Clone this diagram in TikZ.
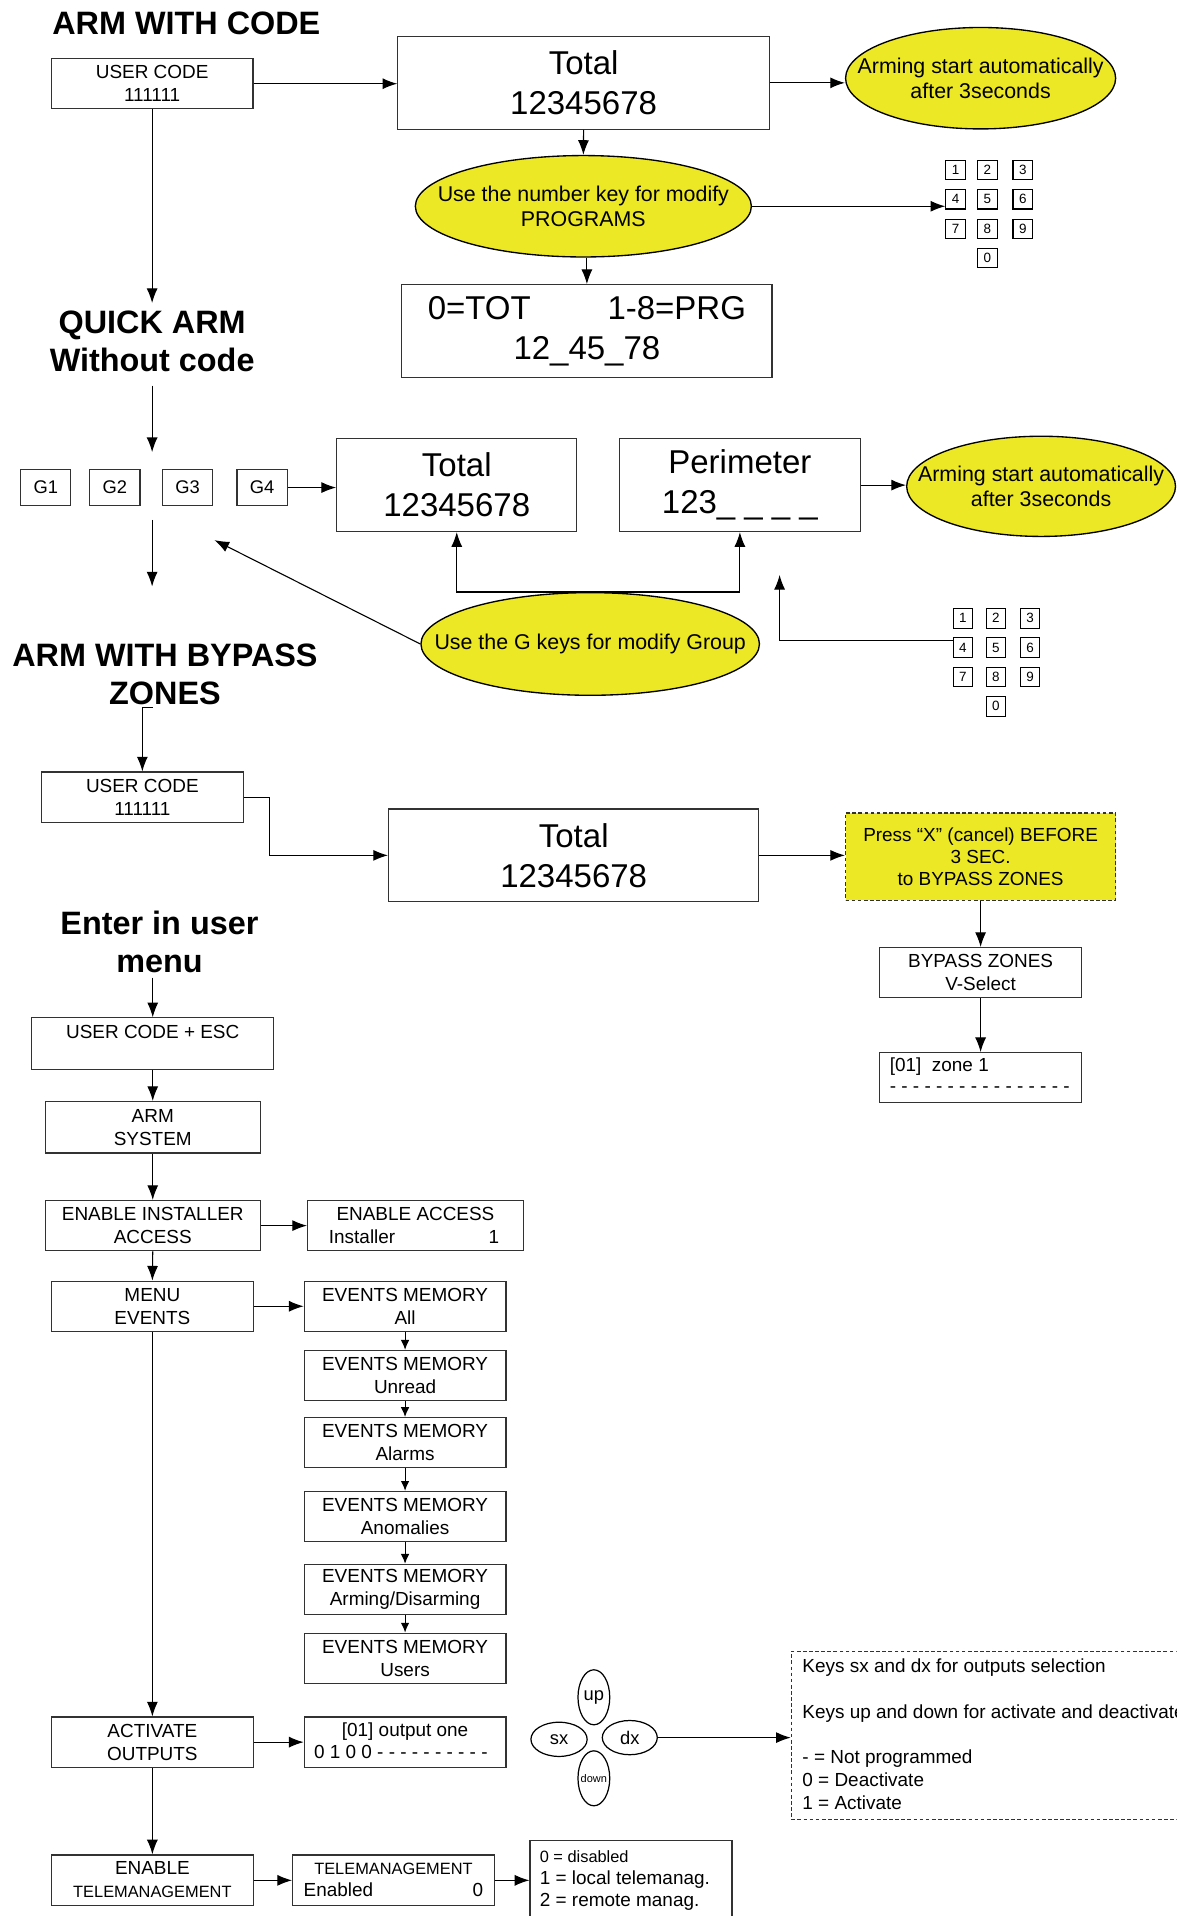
\documentclass[tikz,border=0pt]{standalone}
\usepackage{fontspec}
\setmainfont{Liberation Sans}
\usetikzlibrary{arrows.meta,shapes.geometric}
\definecolor{yel}{RGB}{237,232,37}
\definecolor{boxc}{RGB}{50,50,50}
\newcommand{\myfs}[2]{\fontsize{#1}{#2}\selectfont}
\tikzset{
  box/.style={draw=boxc, line width=1pt, inner sep=0pt, align=center, font=\myfs{15.5}{18.6}, minimum width=165pt, minimum height=41pt},
  bigbox/.style={box, font=\myfs{27}{32.7}, minimum height=76pt},
  yellip/.style={ellipse, draw=black, line width=1.1pt, fill=yel, inner sep=0pt},
  etxt/.style={align=center, inner sep=0pt, font=\myfs{17.5}{20.4}},
  keyb/.style={draw=black, line width=0.9pt, minimum width=16pt, minimum height=16pt, inner sep=0pt, font=\myfs{11}{12}},
  gbox/.style={box, minimum width=41pt, minimum height=30pt, font=\myfs{15}{18}},
  ttl/.style={align=center, inner sep=0pt, font=\bfseries\myfs{26.5}{31.5}},
  txt/.style={inner sep=0pt, font=\myfs{15.5}{18.6}},
  stxt/.style={inner sep=0pt, font=\myfs{13.4}{16}},
  arr/.style={-{Latex[length=12pt,width=9pt]}, line width=0.9pt},
  sarr/.style={-{Latex[length=8pt,width=7pt]}, line width=0.9pt},
  padel/.style={ellipse, draw=black, line width=1pt, inner sep=0pt},
}
\begin{document}
\begin{tikzpicture}[x=1pt,y=-1pt]
\useasboundingbox (0,0) rectangle (963,1568);
\clip (0,0) rectangle (963,1568);

% ---------------- ARM WITH CODE ----------------
\node[ttl] (tArm) at (152.5,19) {ARM WITH CODE};
\node[box] (uc1) at (124.5,68.5) {USER CODE\\111111};
\node[bigbox, minimum width=304pt] (tot1) at (477.6,67.8) {Total\\12345678};
\node[yellip, minimum width=221pt, minimum height=83pt] (ellA1) at (802.5,64) {};
\node[etxt] (ellA1t) at (ellA1.center) {Arming start automatically\\after 3seconds};
\node[yellip, minimum width=275pt, minimum height=83pt] (ellB) at (477.4,168.8) {};
\node[etxt] (ellBt) at (ellB.center) {Use the number key for modify\\PROGRAMS};
\node[bigbox, minimum width=303pt] (prg) at (480.3,271) {0=TOT\hspace{62.8pt}1-8=PRG\\12\_45\_78};
\foreach \d/\x/\y in {1/782/139,2/808/139,3/837/139,4/782/163,5/808/163,6/837/163,7/782/187.5,8/808/187.5,9/837/187.5,0/808/211}
  \node[keyb] (ka\d) at (\x,\y) {\d};

\draw[arr] (uc1.east) -- (uc1.east -| tot1.west);
\draw[arr] (tot1.east) -- (tot1.east -| ellA1.west);
\draw[arr] (tot1.south) -- (ellB.north);
\draw[arr] (prg.north |- ellB.south) -- (prg.north);
\draw[arr] (ellB.east) -- (ellB.east -| ka4.west);

% ---------------- QUICK ARM ----------------
\coordinate (qa1) at (124.5,248);
\draw[arr] (uc1.south) -- (qa1);
\node[ttl] (tQuick) at (124.5,279.5) {QUICK ARM\\Without code};
\coordinate (qa2) at (124.5,315.5);
\coordinate (qa3) at (124.5,370);
\draw[arr] (qa2) -- (qa3);
\node[gbox] (g1) at (37.5,399) {G1};
\node[gbox] (g2) at (94,399) {G2};
\node[gbox] (g3) at (153.5,399) {G3};
\node[gbox] (g4) at (214.5,399) {G4};
\node[bigbox, minimum width=196.5pt] (tot2) at (373.8,397) {Total\\12345678};
\node[bigbox, minimum width=197pt] (per) at (605.5,397) {Perimeter\\123\_ \_ \_ \_};
\node[yellip, minimum width=220pt, minimum height=82pt] (ellC) at (852,398) {};
\node[etxt] (ellCt) at (ellC.center) {Arming start automatically\\after 3seconds};
\node[yellip, minimum width=277pt, minimum height=84pt] (ellD) at (483,527) {};
\node[etxt] (ellDt) at (ellD.center) {Use the G keys for modify Group};
\foreach \d/\x/\y in {1/788/506,2/815/506,3/843/506,4/788/530,5/815/530,6/843/530,7/788/554,8/815/554,9/843/554,0/815/578}
  \node[keyb] (kb\d) at (\x,\y) {\d};

\draw[arr] (g4.east) -- (g4.east -| tot2.west);
\draw[arr] (per.east) -- (per.east -| ellC.west);
\coordinate (gd1) at (124.5,425.5);
\coordinate (gd2) at (124.5,480);
\draw[arr] (gd1) -- (gd2);
\draw[arr] (ellD.north) -| (tot2.south);
\draw[arr] (ellD.north) -| (per.south);
\coordinate (gd3) at (175.5,442);
\draw[arr] (ellD.west) -- (gd3);
\coordinate (kp) at (638,470.5);
\draw[arr] ([yshift=5.5pt]kb4.west) -| (kp);

% ---------------- ARM WITH BYPASS ZONES ----------------
\node[ttl] (tBypass) at (135,552) {ARM WITH BYPASS\\ZONES};
\coordinate (zs) at (125,579);
\node[box] (uc2) at (116.5,652.3) {USER CODE\\111111};
\draw[arr] (zs) -| (uc2.north);
\node[bigbox, minimum width=303pt] (tot3) at (469.5,700) {Total\\12345678};
\draw[arr] (uc2.east) -- ++(21,0) |- (tot3.west);
\node[box, dashed, dash pattern=on 3pt off 2pt, fill=yel, minimum width=221pt, minimum height=71.5pt, font=\myfs{15.5}{18}] (pressx) at (802.5,701) {Press “X” (cancel) BEFORE\\3 SEC.\\to BYPASS ZONES};
\draw[arr] (tot3.east) -- (tot3.east -| pressx.west);
\node[box] (byp) at (802.5,796) {BYPASS ZONES\\V-Select};
\draw[arr] (pressx.south) -- (byp.north);
\node[box] (zone) at (802.5,882) {};
\node[txt, anchor=base west] (zonet1) at (728,877) {[01]\ \ zone 1};
\node[txt, anchor=base west] (zonet2) at (728,894) {- - - - - - - - - - - - - - - -};
\draw[arr] (byp.south) -- (zone.north);

% ---------------- ENTER IN USER MENU ----------------
\node[ttl] (tMenu) at (130.5,771) {Enter in user\\menu};
\coordinate (em0) at (125,800);
\node[box, minimum width=198pt, minimum height=42pt] (ucesc) at (125,854) {};
\node[txt, anchor=base] (ucesct) at (125,849.6) {USER CODE + ESC};
\draw[arr] (em0) -- (ucesc.north);
\node[box, minimum width=176pt, minimum height=42pt] (armsys) at (125,922.5) {ARM\\SYSTEM};
\draw[arr] (ucesc.south) -- (armsys.north);
\node[box, minimum width=176pt] (eninst) at (125,1003) {ENABLE INSTALLER\\ACCESS};
\draw[arr] (armsys.south) -- (eninst.north);
\node[box, minimum width=176.5pt] (enacc) at (340,1003) {};
\node[txt, anchor=base] (enacct1) at (340,998.8) {ENABLE ACCESS};
\node[txt, anchor=base west] (enacct2) at (269,1017.4) {Installer};
\node[txt, anchor=base east] (enacct3) at (408.6,1017.4) {1};
\draw[arr] (eninst.east) -- (enacc.west);
\node[box] (menuev) at (124.7,1069) {MENU\\EVENTS};
\draw[arr] (eninst.south) -- (menuev.north);
\node[box] (em1) at (331.5,1069) {EVENTS MEMORY\\All};
\node[box] (em2) at (331.5,1125.6) {EVENTS MEMORY\\Unread};
\node[box] (em3) at (331.5,1180.6) {EVENTS MEMORY\\Alarms};
\node[box] (em4) at (331.5,1241) {EVENTS MEMORY\\Anomalies};
\node[box] (em5) at (331.5,1300.7) {EVENTS MEMORY\\Arming/Disarming};
\node[box] (em6) at (331.5,1357) {EVENTS MEMORY\\Users};
\draw[arr] (menuev.east) -- (em1.west);
\draw[sarr] (em1.south) -- (em2.north);
\draw[sarr] (em2.south) -- (em3.north);
\draw[sarr] (em3.south) -- (em4.north);
\draw[sarr] (em4.south) -- (em5.north);
\draw[sarr] (em5.south) -- (em6.north);

\node[box] (act) at (124.7,1425.7) {ACTIVATE\\OUTPUTS};
\draw[arr] (menuev.south) -- (act.north);
\node[box] (outb) at (331.5,1425.7) {};
\node[txt, anchor=base] (outbt1) at (331.5,1421) {[01] output one};
\node[txt, anchor=base west] (outbt2) at (256.8,1439.4) {0 1 0 0 - - - - - - - - - -};
\draw[arr] (act.east) -- (outb.west);

% keys pad
\node[padel, minimum width=26pt, minimum height=45pt] (pup) at (486,1389) {};
\node[padel, minimum width=46pt, minimum height=28pt] (psx) at (457.5,1423.4) {};
\node[padel, minimum width=45pt, minimum height=28pt] (pdx) at (515.4,1422) {};
\node[padel, minimum width=26pt, minimum height=45pt] (pdown) at (486,1455.3) {};
\node[inner sep=0pt, font=\myfs{15}{18}] (pupt) at (pup.center) {up};
\node[inner sep=0pt, font=\myfs{15}{18}] (psxt) at (psx.center) {sx};
\node[inner sep=0pt, font=\myfs{15}{18}] (pdxt) at (pdx.center) {dx};
\node[inner sep=0pt, font=\myfs{9}{10}] (pdownt) at (pdown.center) {down};

\node[draw=boxc, line width=1pt, dashed, dash pattern=on 3pt off 2pt, minimum width=352.4pt, minimum height=137.7pt, inner sep=0pt] (dbox) at (823.8,1420.2) {};
\draw[arr] (pdx.east) -- (pdx.east -| dbox.west);
\node[txt, anchor=base west] (db1) at (656.5,1369) {Keys sx and dx for outputs selection};
\node[txt, anchor=base west] (db2) at (656.5,1406.6) {Keys up and down for activate and deactivate};
\node[txt, anchor=base west] (db3) at (656.5,1443.4) {- = Not programmed};
\node[txt, anchor=base west] (db4) at (656.5,1462) {0 = Deactivate};
\node[txt, anchor=base west] (db5) at (656.5,1480.6) {1 = Activate};

% telemanagement
\node[box, minimum height=41.5pt] (entele) at (124.7,1538.8) {};
\node[txt, anchor=base] (entelet1) at (124.7,1534) {ENABLE};
\node[stxt, anchor=base] (entelet2) at (124.7,1553) {TELEMANAGEMENT};
\draw[arr] (act.south) -- (entele.north);
\node[box, minimum height=41.5pt] (tele) at (322,1538.8) {};
\node[stxt, anchor=base] (telet1) at (322,1534) {TELEMANAGEMENT};
\node[txt, anchor=base west] (telet2) at (248.3,1552) {Enabled};
\node[txt, anchor=base east] (telet3) at (395.5,1552) {0};
\draw[arr] (entele.east) -- (tele.west);
\node[box, minimum width=165.3pt, minimum height=84pt] (listb) at (516.4,1548) {};
\node[stxt, anchor=base west] (lb1) at (441.6,1524) {0 = disabled};
\node[txt, anchor=base west] (lb2) at (441.6,1542.3) {1 = local telemanag.};
\node[txt, anchor=base west] (lb3) at (441.6,1560.5) {2 = remote manag.};
\draw[arr] (tele.east) -- (tele.east -| listb.west);
\end{tikzpicture}
\end{document}
